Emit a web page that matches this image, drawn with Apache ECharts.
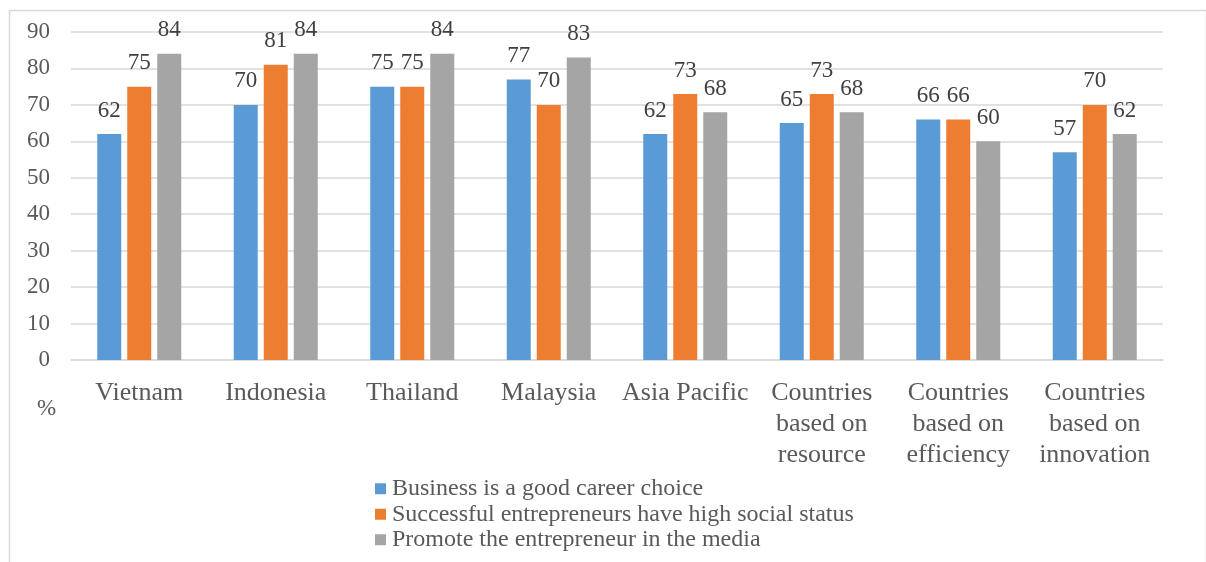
<!DOCTYPE html>
<html>
<head>
<meta charset="utf-8">
<script src="https://cdn.jsdelivr.net/npm/echarts@6/dist/echarts.min.js"></script>
<style>
  html, body { margin: 0; padding: 0; background: #fff; }
  #chart { width: 1206px; height: 562px; }
</style>
</head>
<body>
<div id="chart"></div>
<script>
// Entrepreneurial attitudes by economy group (%)
const categories = [
  'Vietnam', 'Indonesia', 'Thailand', 'Malaysia', 'Asia Pacific',
  'Countries\nbased on\nresource', 'Countries\nbased on\nefficiency', 'Countries\nbased on\ninnovation'
];
const seriesNames = [
  'Business is a good career choice',
  'Successful entrepreneurs have high social status',
  'Promote the entrepreneur in the media'
];
const careerChoice = [62, 70, 75, 77, 62, 65, 66, 57];
const socialStatus = [75, 81, 75, 70, 73, 73, 66, 70];
const mediaPromotion = [84, 84, 84, 83, 68, 68, 60, 62];
const yTicks = { min: 0, max: 90, interval: 10 };

const colors = ['#5B9BD5', '#ED7D31', '#A5A5A5'];
const font = 'Liberation Serif, Times New Roman, serif';
const textColor = '#595959';

const chart = echarts.init(document.getElementById('chart'));

function barSeries(name, data, color) {
  return {
    name: name,
    type: 'bar',
    data: data,
    barWidth: 24,
    barGap: '25%',
    itemStyle: { color: color },
    label: {
      show: true,
      position: 'top',
      distance: 12,
      fontFamily: font,
      fontSize: 23,
      color: '#404040'
    }
  };
}

chart.setOption({
  animation: false,
  color: colors,
  textStyle: { fontFamily: font },
  grid: { left: 71, right: 43, top: 32, bottom: 202, containLabel: false },
  legend: {
    orient: 'vertical',
    left: 370,
    top: 471,
    itemWidth: 11,
    itemHeight: 11,
    itemGap: 0,
    icon: 'rect',
    textStyle: { fontFamily: font, fontSize: 24, lineHeight: 25.5, color: textColor, padding: [0, 0, 0, 1] },
    data: seriesNames
  },
  xAxis: {
    type: 'category',
    data: categories,
    axisLine: { lineStyle: { color: '#d9d9d9', width: 1.5 } },
    axisTick: { show: false },
    axisLabel: {
      interval: 0,
      margin: 18,
      fontFamily: font,
      fontSize: 26,
      lineHeight: 31,
      color: textColor
    }
  },
  yAxis: {
    type: 'value',
    min: yTicks.min,
    max: yTicks.max,
    interval: yTicks.interval,
    axisLine: { show: false },
    axisTick: { show: false },
    splitLine: { lineStyle: { color: '#d9d9d9', width: 1.5 } },
    axisLabel: {
      margin: 21,
      fontFamily: font,
      fontSize: 23,
      color: textColor
    }
  },
  graphic: [
    {
      type: 'rect',
      left: 7,
      top: 8,
      shape: { width: 1197, height: 600 },
      style: { fill: 'none', stroke: '#d9d9d9', lineWidth: 1.5 },
      silent: true
    },
    {
      type: 'text',
      left: 37,
      top: 397,
      style: { text: '%', fontFamily: font, fontSize: 23, fill: textColor }
    }
  ],
  series: [
    barSeries(seriesNames[0], careerChoice, colors[0]),
    barSeries(seriesNames[1], socialStatus, colors[1]),
    barSeries(seriesNames[2], mediaPromotion, colors[2])
  ]
});
</script>
</body>
</html>
